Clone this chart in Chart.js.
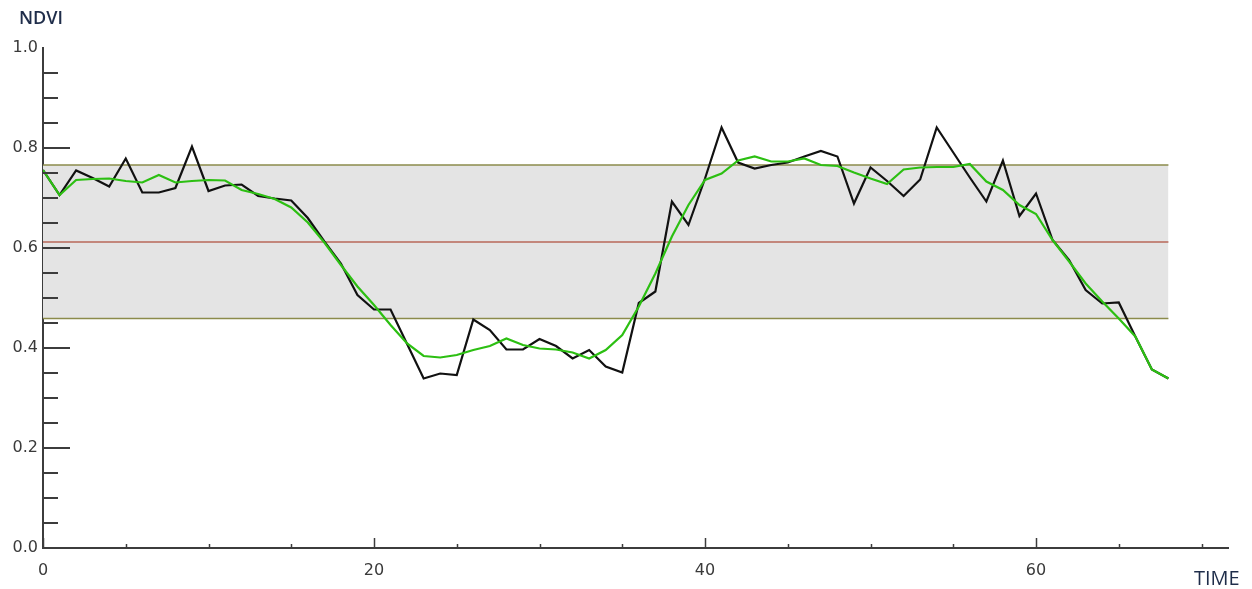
<!DOCTYPE html>
<html>
<head>
<meta charset="utf-8">
<script src="https://cdn.jsdelivr.net/npm/chart.js@4.4.1/dist/chart.umd.min.js"></script>
<style>
  html, body { margin: 0; padding: 0; background: #ffffff; }
  #wrap { width: 1252px; height: 589px; position: relative; }
</style>
</head>
<body>
<div id="wrap"><canvas id="c" width="1252" height="589"></canvas></div>
<script>
// Time steps (composite index)
const time = [0,1,2,3,4,5,6,7,8,9,10,11,12,13,14,15,16,17,18,19,20,21,22,23,24,25,26,27,28,29,30,31,32,33,34,
              35,36,37,38,39,40,41,42,43,44,45,46,47,48,49,50,51,52,53,54,55,56,57,58,59,60,61,62,63,64,65,66,67,68];

// Raw NDVI profile
const ndviRaw = [0.756,0.706,0.755,0.740,0.723,0.779,0.711,0.711,0.720,0.803,0.714,0.725,0.727,0.704,0.699,0.695,0.660,0.613,
                 0.569,0.506,0.477,0.477,0.408,0.339,0.349,0.346,0.457,0.436,0.397,0.397,0.418,0.404,0.379,0.396,0.363,
                 0.351,0.490,0.513,0.693,0.646,0.739,0.841,0.771,0.759,0.766,0.771,0.783,0.794,0.783,0.689,0.761,0.734,
                 0.704,0.737,0.841,0.791,0.741,0.693,0.775,0.664,0.709,0.616,0.576,0.516,0.489,0.491,0.423,0.357,0.339];

// Smoothed NDVI profile
const ndviSmooth = [0.756,0.706,0.736,0.738,0.739,0.734,0.731,0.746,0.731,0.734,0.736,0.735,0.716,0.708,0.698,0.681,0.651,0.611,
                    0.566,0.523,0.486,0.446,0.409,0.384,0.381,0.386,0.396,0.404,0.419,0.406,0.399,0.397,0.391,0.379,0.396,
                    0.426,0.483,0.549,0.623,0.686,0.736,0.749,0.775,0.783,0.773,0.773,0.779,0.766,0.764,0.751,0.739,0.728,
                    0.757,0.761,0.762,0.762,0.768,0.733,0.716,0.686,0.668,0.616,0.573,0.529,0.493,0.459,0.423,0.357,0.339];

// Reference band: mean and mean +/- one standard deviation
const bandX = [0, 68];
const bandMean = [0.612, 0.612];
const bandUpper = [0.766, 0.766];
const bandLower = [0.459, 0.459];

// Axis ticks
const xTickValues = [0,5,10,15,20,25,30,35,40,45,50,55,60,65,70];
const xLabelValues = [0,20,40,60];
const yTickValues = [0,0.05,0.1,0.15,0.2,0.25,0.3,0.35,0.4,0.45,0.5,0.55,0.6,0.65,0.7,0.75,0.8,0.85,0.9,0.95,1.0];
const yLabelValues = [0,0.2,0.4,0.6,0.8,1.0];

const xyPairs = (xs, ys) => xs.map((x, i) => ({ x: x, y: ys[i] }));
const isLabel = (list, v) => list.some(l => Math.abs(l - v) < 1e-6);

const axisColor = '#3c3c3c';
const labelFont = { family: 'DejaVu Sans', size: 16 };

// Inward tick marks and the two axis captions
const axisDecor = {
  id: 'axisDecor',
  afterDraw(chart) {
    const ctx = chart.ctx;
    const xs = chart.scales.x, ys = chart.scales.y;
    ctx.save();
    ctx.strokeStyle = axisColor;
    ctx.lineWidth = 2;
    ys.ticks.forEach(t => {
      // the ends of the axis carry no mark
      if (t.value <= 0 || t.value >= 1) return;
      const py = Math.round(ys.getPixelForValue(t.value));
      const len = isLabel(yLabelValues, t.value) ? 27 : 15;
      ctx.beginPath();
      ctx.moveTo(xs.left, py);
      ctx.lineTo(xs.left + len, py);
      ctx.stroke();
    });
    ctx.lineWidth = 1.5;
    xs.ticks.forEach(t => {
      const px = Math.round(xs.getPixelForValue(t.value)) + 0.5;
      const len = isLabel(xLabelValues, t.value) ? 10 : 4;
      ctx.beginPath();
      ctx.moveTo(px, ys.bottom);
      ctx.lineTo(px, ys.bottom - len);
      ctx.stroke();
    });
    ctx.fillStyle = '#1f2d4a';
    ctx.textBaseline = 'middle';
    ctx.textAlign = 'left';
    ctx.font = '600 18px "Open Sans", "Noto Sans", sans-serif';
    ctx.fillText('NDVI', 19, 19);
    ctx.font = '20px "Open Sans", "Noto Sans", sans-serif';
    ctx.fillText('TIME', 1194, 579);
    ctx.restore();
  }
};

new Chart(document.getElementById('c'), {
  type: 'line',
  data: {
    datasets: [
      {
        label: 'upper', data: xyPairs(bandX, bandUpper),
        borderColor: '#8b8b4b', borderWidth: 1.5, pointRadius: 0, fill: false, order: 3
      },
      {
        label: 'lower', data: xyPairs(bandX, bandLower),
        borderColor: '#8b8b4b', borderWidth: 1.5, pointRadius: 0,
        fill: '-1', backgroundColor: '#e4e4e4', order: 4
      },
      {
        label: 'mean', data: xyPairs(bandX, bandMean),
        borderColor: '#b8695a', borderWidth: 1.5, pointRadius: 0, fill: false, order: 2
      },
      {
        label: 'NDVI', data: xyPairs(time, ndviRaw),
        borderColor: '#111111', borderWidth: 2.2, pointRadius: 0, fill: false, tension: 0, order: 1
      },
      {
        label: 'NDVI smoothed', data: xyPairs(time, ndviSmooth),
        borderColor: '#2cbf12', borderWidth: 2.2, pointRadius: 0, fill: false, tension: 0, order: 0
      }
    ]
  },
  options: {
    responsive: false,
    animation: false,
    events: [],
    layout: { padding: { top: 48, right: 24, left: 0, bottom: 0 } },
    plugins: {
      legend: { display: false },
      tooltip: { enabled: false },
      filler: { drawTime: 'beforeDatasetsDraw' }
    },
    scales: {
      x: {
        type: 'linear',
        min: 0, max: 71.6,
        afterBuildTicks: s => { s.ticks = xTickValues.map(v => ({ value: v })); },
        afterFit: s => { s.height = 41; },
        grid: { display: false, drawTicks: false },
        border: { display: true, color: axisColor, width: 2 },
        ticks: {
          autoSkip: false, maxRotation: 0, padding: 13,
          color: '#3a3a3a', font: labelFont,
          callback: v => isLabel(xLabelValues, v) ? String(v) : ''
        }
      },
      y: {
        type: 'linear',
        min: 0, max: 1,
        afterBuildTicks: s => { s.ticks = yTickValues.map(v => ({ value: v })); },
        afterFit: s => { s.width = 43; },
        grid: { display: false, drawTicks: false },
        border: { display: true, color: axisColor, width: 2 },
        ticks: {
          autoSkip: false, padding: 5,
          color: '#3a3a3a', font: labelFont,
          callback: v => isLabel(yLabelValues, v) ? v.toFixed(1) : ''
        }
      }
    }
  },
  plugins: [axisDecor]
});
</script>
</body>
</html>
